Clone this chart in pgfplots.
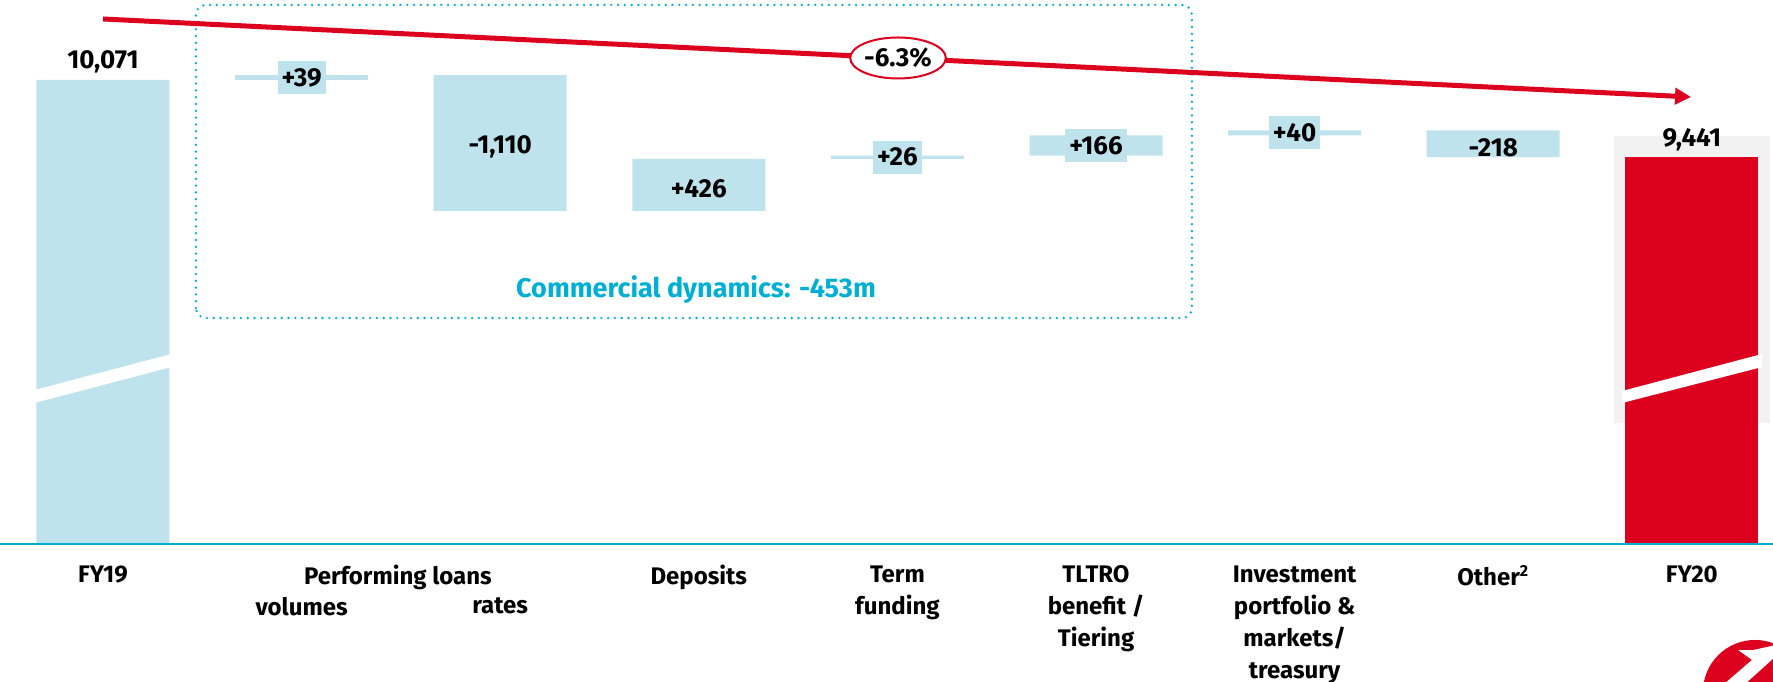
\documentclass[border=0pt]{standalone}
\usepackage{fontspec}
\setmainfont{Fira Sans}
\usepackage{pgfplots}
\usepackage{pgfplotstable}
\pgfplotsset{compat=1.18}
\usetikzlibrary{arrows.meta,shapes.geometric,backgrounds}
\definecolor{barblue}{RGB}{191,227,236}
\definecolor{ucred}{RGB}{221,0,30}
\definecolor{cyanc}{RGB}{0,176,212}
\definecolor{greybg}{RGB}{242,242,242}

% waterfall: invisible base + visible step, totals in red column
\pgfplotstableread{
x base delta total
0 0 10071 0
1 10071 39 0
2 9000 1110 0
3 9000 426 0
4 9426 26 0
5 9452 166 0
6 9618 40 0
7 9440 218 0
8 0 0 9441
}\wf

\tikzset{
  lbl/.style={font=\bfseries\fontsize{13}{15}\selectfont},
  inbar/.style={lbl, yshift=-2pt},
  thin/.style={lbl, fill=barblue, inner xsep=2pt, minimum height=16.5pt},
  cat/.style={anchor=north, yshift=-10.5pt, align=center, inner sep=0pt, font=\bfseries\fontsize{12}{16}\selectfont},
}

\begin{document}
\begin{tikzpicture}
\begin{axis}[
  scale only axis, width=886.5pt, height=272pt,
  xmin=-0.5186, xmax=8.4088, ymin=6275, ymax=10725,
  hide axis,
  ybar stacked, bar width=66.5pt,
]
\addplot[fill=none, draw=none] table[x=x,y=base]{\wf};
\addplot[fill=barblue, draw=none] table[x=x,y=delta]{\wf};
\addplot[fill=ucred, draw=none] table[x=x,y=total]{\wf};

% anchors for the annotations drawn after the axis
\coordinate (g1) at (axis cs:7.608,7265);
\coordinate (g2) at (axis cs:8.394,9613);
\coordinate (k1) at (axis cs:-0.345,7535);
\coordinate (k2) at (axis cs:0.345,7830);
\coordinate (k3) at (axis cs:0.345,7723);
\coordinate (k4) at (axis cs:-0.345,7429);
\coordinate (m1) at (axis cs:7.649,7527);
\coordinate (m2) at (axis cs:8.354,7830);
\coordinate (m3) at (axis cs:8.354,7723);
\coordinate (m4) at (axis cs:7.649,7429);
\coordinate (d1) at (axis cs:0.468,8124);
\coordinate (d2) at (axis cs:5.483,10685);
\coordinate (cd) at (axis cs:2.986,8353);
\coordinate (a1) at (axis cs:0,10570);
\coordinate (a2) at (axis cs:7.996,9932);
\coordinate (pct) at (axis cs:4.003,10251);
\coordinate (v0) at (axis cs:0,10071);
\coordinate (v1) at (axis cs:1,10090.5);
\coordinate (v2) at (axis cs:2,9555);
\coordinate (v3) at (axis cs:3,9213);
\coordinate (v4) at (axis cs:4,9439);
\coordinate (v5) at (axis cs:5,9535);
\coordinate (v6) at (axis cs:6,9638);
\coordinate (v7) at (axis cs:7,9549);
\coordinate (v8) at (axis cs:8,9441);
\coordinate (bl) at (axis cs:-0.5186,6275);
\coordinate (br) at (axis cs:8.4088,6275);
\coordinate (c0) at (axis cs:0,6275);
\coordinate (c1) at (axis cs:1,6275);
\coordinate (c15) at (axis cs:1.485,6275);
\coordinate (c2) at (axis cs:2,6275);
\coordinate (c3) at (axis cs:3,6275);
\coordinate (c4) at (axis cs:4,6275);
\coordinate (c5) at (axis cs:5,6275);
\coordinate (c6) at (axis cs:6,6275);
\coordinate (c7) at (axis cs:7,6275);
\coordinate (c8) at (axis cs:8,6275);
\coordinate (logo) at (axis cs:8.318,5065);
\coordinate (s1) at (axis cs:8.162,5130);
\coordinate (s2) at (axis cs:8.268,5130);
\coordinate (s3) at (axis cs:8.424,5359);
\coordinate (s4) at (axis cs:8.424,5449);
\coordinate (s5) at (axis cs:8.308,5408);
\coordinate (s6) at (axis cs:8.233,5408);
\coordinate (s7) at (axis cs:8.303,5327);
\coordinate (bbsw) at (axis cs:-0.5186,5146.6);
\coordinate (bbne) at (axis cs:8.4088,10725.4);
\end{axis}

% grey panel behind the FY20 bar
\begin{scope}[on background layer]
\fill[greybg] (g1) rectangle (g2);
\end{scope}

% axis breaks
\fill[white] (k1) -- (k2) -- (k3) -- (k4) -- cycle;
\fill[white] (m1) -- (m2) -- (m3) -- (m4) -- cycle;

% baseline
\draw[cyanc, line width=1.2pt] (bl) -- (br);

% commercial dynamics box
\draw[cyanc, line width=1.3pt, line cap=round, dash pattern=on 0pt off 3.4pt, rounded corners=5pt] (d1) rectangle (d2);
\node[text=cyanc, font=\bfseries\fontsize{13.5}{15}\selectfont] at (cd) {Commercial dynamics: -453m};

% trend arrow
\draw[ucred, line width=2.5pt, -{Triangle[length=8pt,width=8pt]}] (a1) -- (a2);
\node[lbl, ellipse, draw=ucred, line width=1pt, fill=white, minimum width=47.5pt, minimum height=20.5pt, inner sep=0pt] at (pct) {-6.3\%};

% value labels
\node[lbl, anchor=base, yshift=5.5pt] at (v0) {10,071};
\node[thin] at (v1) {+39};
\node[inbar] at (v2) {-1,110};
\node[inbar] at (v3) {+426};
\node[thin] at (v4) {+26};
\node[thin] at (v5) {+166};
\node[thin] at (v6) {+40};
\node[inbar] at (v7) {-218};
\node[lbl, anchor=base, yshift=5.5pt] at (v8) {9,441};

% category labels
\node[cat] at (c0) {FY19};
\node[cat] at (c15) {Performing loans};
\node[cat, yshift=-16pt] at (c1) {volumes};
\node[cat, yshift=-16pt] at (c2) {rates};
\node[cat] at (c3) {Deposits};
\node[cat] at (c4) {Term\\funding};
\node[cat] at (c5) {TLTRO\\benefit /\\Tiering};
\node[cat] at (c6) {Investment\\portfolio \&\\markets/\\treasury};
\node[cat] at (c7) {Other\textsuperscript{2}};
\node[cat] at (c8) {FY20};

% logo, cut at the page edge
\begin{scope}
\clip (bbsw) rectangle (bbne);
\fill[ucred] (logo) circle[radius=26pt];
\fill[white] (s1) -- (s2) -- (s3) -- (s4) -- (s5) -- (s6) -- (s7) -- cycle;
\end{scope}

\pgfresetboundingbox
\useasboundingbox (bbsw) rectangle (bbne);
\end{tikzpicture}
\end{document}
